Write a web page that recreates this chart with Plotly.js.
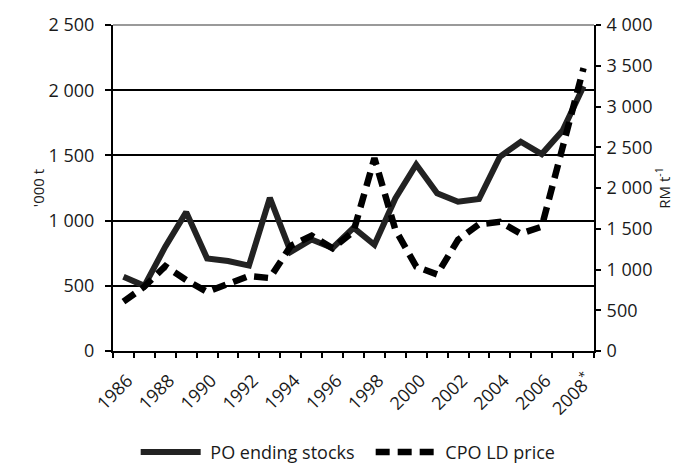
<!DOCTYPE html>
<html>
<head>
<meta charset="utf-8">
<script src="https://cdn.plot.ly/plotly-3.0.1.min.js"></script>
<style>
  html, body { margin: 0; padding: 0; background: #fff; }
  #chart { width: 689px; height: 472px; }
</style>
</head>
<body>
<div id="chart"></div>
<script>
const years = [1986, 1987, 1988, 1989, 1990, 1991, 1992, 1993, 1994, 1995, 1996, 1997,
               1998, 1999, 2000, 2001, 2002, 2003, 2004, 2005, 2006, 2007, 2008];
const stocks = [570, 500, 800, 1065, 710, 690, 655, 1175, 760, 855, 790, 945,
                815, 1170, 1430, 1210, 1145, 1165, 1490, 1605, 1510, 1690, 2030];
const prices = [605, 790, 1040, 870, 725, 830, 920, 895, 1290, 1415, 1260, 1465,
                2365, 1490, 1035, 940, 1365, 1555, 1585, 1440, 1525, 2500, 3470];

const xTickVals = [1986, 1988, 1990, 1992, 1994, 1996, 1998, 2000, 2002, 2004, 2006, 2008];
const xTickText = ['1986', '1988', '1990', '1992', '1994', '1996', '1998', '2000', '2002', '2004', '2006', '2008<sup>*</sup>'];
const leftTickVals = [0, 500, 1000, 1500, 2000, 2500];
const leftTickText = ['0', '500', '1 000', '1 500', '2 000', '2 500'];
const rightTickVals = [0, 500, 1000, 1500, 2000, 2500, 3000, 3500, 4000];
const rightTickText = ['0', '500', '1 000', '1 500', '2 000', '2 500', '3 000', '3 500', '4 000'];

const fontFamily = '"Open Sans", "Noto Sans", sans-serif';
const ink = '#1a1a1a';

const traces = [
  {
    x: years, y: stocks, name: '\u00a0PO ending stocks', type: 'scatter', mode: 'lines',
    line: { color: '#222222', width: 6 }, yaxis: 'y'
  },
  {
    x: years, y: prices, name: '\u00a0CPO LD price', type: 'scatter', mode: 'lines',
    line: { color: '#000000', width: 6.5, dash: '14px,8px' }, yaxis: 'y2'
  }
];

const layout = {
  width: 689, height: 472,
  margin: { l: 113, r: 95, t: 25, b: 121 },
  paper_bgcolor: '#ffffff', plot_bgcolor: '#ffffff',
  font: { family: fontFamily, size: 18, color: ink },
  showlegend: true,
  legend: {
    orientation: 'h', xref: 'container', yref: 'container',
    x: 0.538, xanchor: 'center', y: 0.042, yanchor: 'middle',
    font: { family: fontFamily, size: 18, color: ink },
    itemwidth: 60, tracegroupgap: 0, itemclick: false,
    entrywidth: 160, entrywidthmode: 'pixels'
  },
  xaxis: {
    type: 'linear', range: [1985.5, 2008.5], automargin: false,
    tickmode: 'array', tickvals: xTickVals, ticktext: xTickText,
    tickangle: -45, ticks: '', showgrid: false, zeroline: false,
    ticklabelstandoff: 10, ticklabelshift: 4,
    showline: true, linecolor: '#000', linewidth: 2,
    tickfont: { family: fontFamily, size: 18, color: ink },
    minor: { ticks: 'outside', tick0: 1985.5, dtick: 1, ticklen: 5, tickwidth: 2, tickcolor: '#000', showgrid: false }
  },
  yaxis: {
    range: [0, 2500], automargin: false,
    tickmode: 'array', tickvals: leftTickVals, ticktext: leftTickText,
    ticks: 'outside', ticklen: 6, tickwidth: 2, tickcolor: '#000',
    ticklabelstandoff: 7,
    showline: true, linecolor: '#000', linewidth: 2,
    showgrid: true, gridcolor: '#000', gridwidth: 2, zeroline: false,
    tickfont: { family: fontFamily, size: 18, color: ink },
    title: { text: "'000 t", font: { family: fontFamily, size: 15, color: ink }, standoff: 0 }
  },
  yaxis2: {
    overlaying: 'y', side: 'right', range: [0, 4000], automargin: false,
    tickmode: 'array', tickvals: rightTickVals, ticktext: rightTickText,
    ticks: 'outside', ticklen: 5, tickwidth: 2, tickcolor: '#000',
    ticklabelstandoff: 2,
    showline: true, linecolor: '#000', linewidth: 2,
    showgrid: false, zeroline: false,
    tickfont: { family: fontFamily, size: 18, color: ink },
    title: { text: 'RM t<sup>-1</sup>', font: { family: fontFamily, size: 15, color: ink }, standoff: 5 }
  },
  shapes: [
    { type: 'line', xref: 'paper', yref: 'paper', x0: 0, x1: 1, y0: 1, y1: 1,
      line: { color: '#9a9a9a', width: 2 }, layer: 'above' }
  ]
};

Plotly.newPlot('chart', traces, layout, { displayModeBar: false, staticPlot: true });
</script>
</body>
</html>
